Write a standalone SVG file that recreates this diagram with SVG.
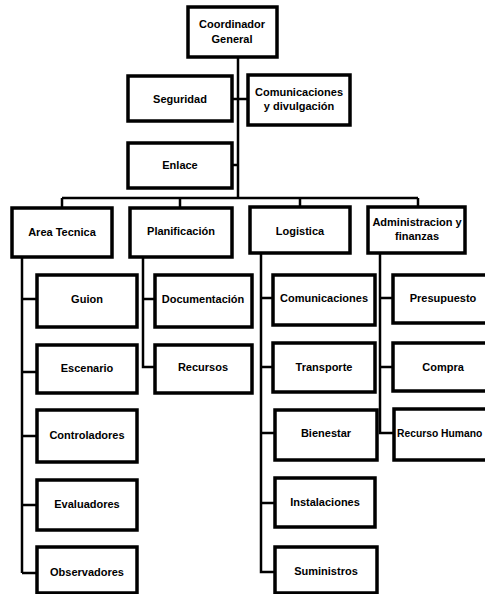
<svg xmlns="http://www.w3.org/2000/svg" width="485" height="594" viewBox="0 0 485 594">
<style>
.b{fill:#fff;stroke:#000;stroke-width:3.5}
.t{font-family:"Liberation Sans",Arial,sans-serif;font-weight:bold;font-size:11px;fill:#000;text-anchor:middle}
.c{fill:none;stroke:#000;stroke-width:2.5}
</style>
<rect width="485" height="594" fill="#fff"/>
<g id="connectors">
<path class="c" d="M238 57V198M232 99H248M232 165H238M62 198H418M62 198V208M180 198V208M300 198V207M418 198V207"/>
<path class="c" d="M22 257V573M22 299H37M22 372H37M22 436H37M22 505H37M22 573H37"/>
<path class="c" d="M143 257V367H155M143 299H155"/>
<path class="c" d="M261 253V572H275M261 298H273M261 367H273M261 433H275M261 503H275"/>
<path class="c" d="M380 253V433H394M380 298H393M380 367H393"/>
</g>
<g id="coordinador"><rect class="b" x="188" y="7" width="89" height="50"/><text class="t" x="232" y="28">Coordinador</text><text class="t" x="232" y="43">General</text></g>
<g id="seguridad"><rect class="b" x="128" y="76" width="104" height="45"/><text class="t" x="180" y="103">Seguridad</text></g>
<g id="comunicaciones-divulgacion"><rect class="b" x="248" y="75" width="102" height="50"/><text class="t" x="299" y="96">Comunicaciones</text><text class="t" x="299" y="110">y divulgación</text></g>
<g id="enlace"><rect class="b" x="128" y="143" width="104" height="45"/><text class="t" x="180" y="169">Enlace</text></g>
<g id="area-tecnica"><rect class="b" x="12" y="208" width="100" height="49"/><text class="t" x="62" y="236">Area Tecnica</text></g>
<g id="planificacion"><rect class="b" x="130" y="208" width="102" height="49"/><text class="t" x="181" y="235">Planificación</text></g>
<g id="logistica"><rect class="b" x="250" y="207" width="100" height="46"/><text class="t" x="300" y="235">Logistica</text></g>
<g id="administracion"><rect class="b" x="368" y="207" width="97" height="46"/><text class="t" x="417" y="226">Administracion y</text><text class="t" x="417" y="240">finanzas</text></g>
<g id="guion"><rect class="b" x="37" y="275" width="100" height="52"/><text class="t" x="87" y="303">Guion</text></g>
<g id="escenario"><rect class="b" x="37" y="345" width="100" height="48"/><text class="t" x="87" y="372">Escenario</text></g>
<g id="controladores"><rect class="b" x="37" y="410" width="100" height="52"/><text class="t" x="87" y="439">Controladores</text></g>
<g id="evaluadores"><rect class="b" x="37" y="480" width="100" height="50"/><text class="t" x="87" y="508">Evaluadores</text></g>
<g id="observadores"><rect class="b" x="37" y="547" width="100" height="46"/><text class="t" x="87" y="576">Observadores</text></g>
<g id="documentacion"><rect class="b" x="155" y="275" width="97" height="52"/><text class="t" x="203" y="303">Documentación</text></g>
<g id="recursos"><rect class="b" x="155" y="345" width="97" height="48"/><text class="t" x="203" y="371">Recursos</text></g>
<g id="comunicaciones"><rect class="b" x="273" y="275" width="102" height="50"/><text class="t" x="324" y="302">Comunicaciones</text></g>
<g id="transporte"><rect class="b" x="273" y="343" width="102" height="49"/><text class="t" x="324" y="371">Transporte</text></g>
<g id="bienestar"><rect class="b" x="275" y="410" width="102" height="50"/><text class="t" x="326" y="437">Bienestar</text></g>
<g id="instalaciones"><rect class="b" x="275" y="478" width="100" height="49"/><text class="t" x="325" y="506">Instalaciones</text></g>
<g id="suministros"><rect class="b" x="275" y="547" width="102" height="46"/><text class="t" x="326" y="575">Suministros</text></g>
<g id="presupuesto"><rect class="b" x="393" y="275" width="100" height="48"/><text class="t" x="443" y="302">Presupuesto</text></g>
<g id="compra"><rect class="b" x="393" y="343" width="100" height="48"/><text class="t" x="443" y="371">Compra</text></g>
<g id="recurso-humano"><rect class="b" x="394" y="409" width="100" height="51"/><text class="t" x="397" y="437" style="text-anchor:start;font-size:10.3px">Recurso Humano</text></g>
</svg>
